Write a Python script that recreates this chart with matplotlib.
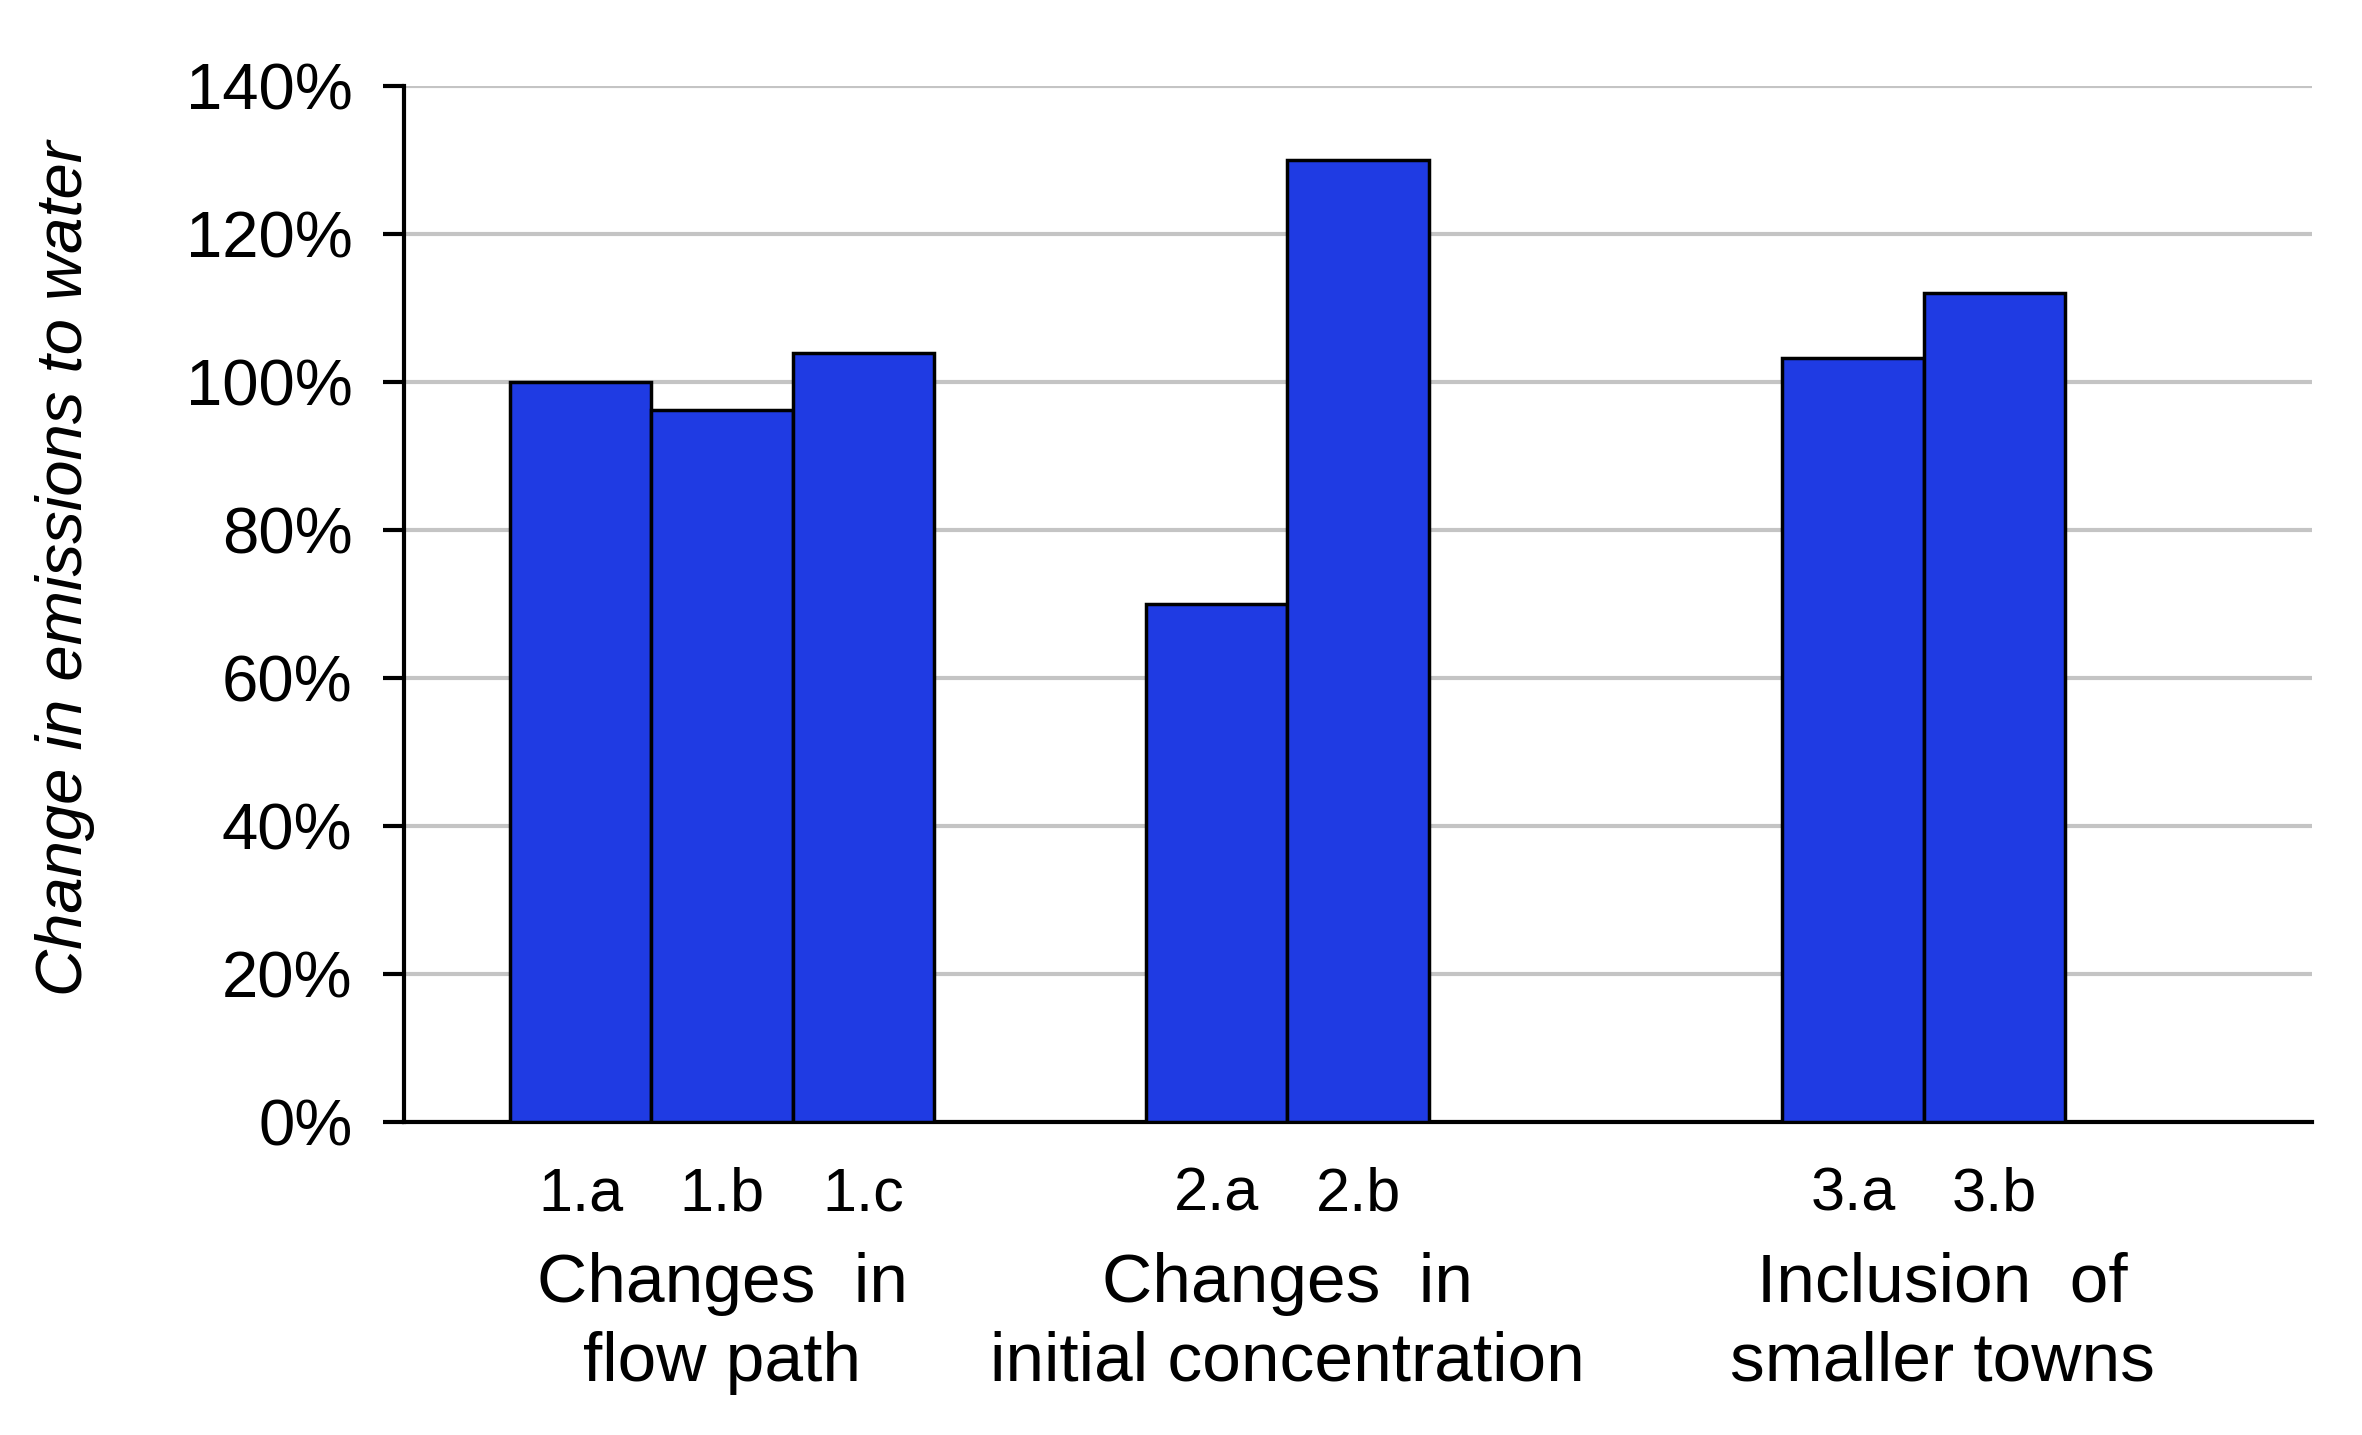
import numpy as np
import matplotlib
matplotlib.use("Agg")
import matplotlib.pyplot as plt
import matplotlib.transforms as mtransforms

# datos
grupos = ["Changes  in\nflow path", "Changes  in\ninitial concentration", "Inclusion  of\nsmaller towns"]
etiquetas = [["1.a", "1.b", "1.c"], ["2.a", "2.b"], ["3.a", "3.b"]]
valores = [[100.0, 96.2, 104.0], [70.0, 130.0], [103.3, 112.1]]
yticks = [0, 20, 40, 60, 80, 100, 120, 140]

azul = "#1f3be3"
fuente = ["Liberation Sans Narrow", "Liberation Sans", "DejaVu Sans"]

fig = plt.figure(figsize=(23.62, 14.35), dpi=100)
ax = fig.add_axes([0.171, 0.218, 0.808, 0.722])

ancho = 1 / 4.5  # 3 series por categoria, gap 150%
pos_barras = []
nombres = []
for i, (vals, labs) in enumerate(zip(valores, etiquetas)):
    for j, (v, lab) in enumerate(zip(vals, labs)):
        x = i + (j - 1) * ancho
        ax.bar(x, v, width=ancho, color=azul, edgecolor="black", linewidth=2.5, zorder=3)
        pos_barras.append(x)
        nombres.append(lab)

ax.set_xlim(-0.5, 2.5)
ax.set_ylim(0, 140)
ax.set_yticks(yticks)
ax.set_yticklabels([f"{t}%" for t in yticks], fontsize=47, fontfamily="Liberation Sans")
ax.yaxis.grid(True, color="#c4c4c4", linewidth=3, zorder=0)
ax.set_axisbelow(True)

ax.set_xticks(pos_barras)
ax.set_xticklabels(nombres, fontsize=44, fontfamily=fuente)
ax.tick_params(axis="x", length=0, pad=32)
ax.tick_params(axis="y", length=15, width=3, pad=22, direction="out")

for s in ["top", "right"]:
    ax.spines[s].set_visible(False)
ax.spines["left"].set_linewidth(3)
ax.spines["bottom"].set_linewidth(3)

# etiquetas de grupo debajo de los nombres de barras
trans = mtransforms.blended_transform_factory(ax.transData, fig.transFigure)
centros = [0.0, 1 - 0.5 * ancho, 2 - 0.5 * ancho + 0.03]
for c, g in zip(centros, grupos):
    ax.text(c, 0.078, g, transform=trans, ha="center", va="center",
            fontsize=50, fontfamily=fuente, linespacing=1.3)

fig.text(0.0275, 0.604, "Change in emissions to water", rotation=90,
         ha="center", va="center", fontsize=47, fontstyle="italic", fontfamily=fuente)

plt.savefig("out.png", dpi=100)
